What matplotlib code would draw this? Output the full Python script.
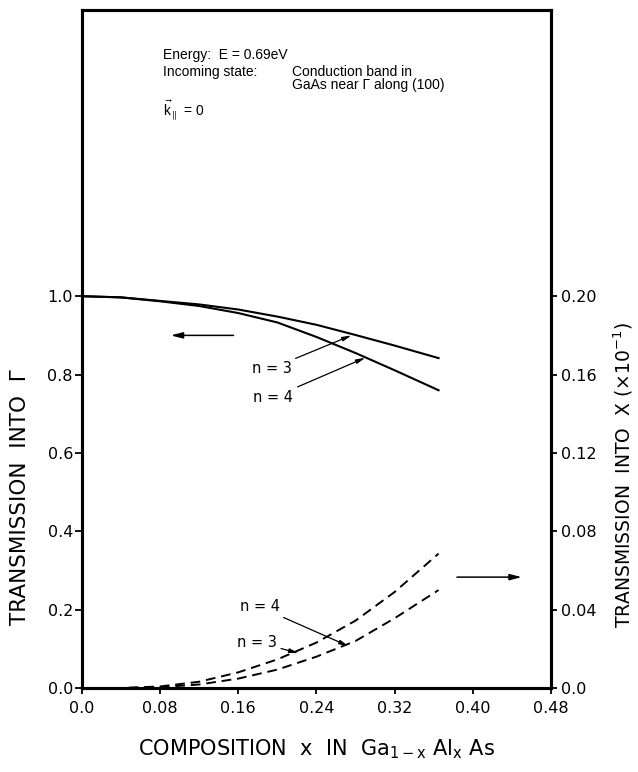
import numpy as np
import matplotlib
matplotlib.use("Agg")
from matplotlib import pyplot as plt

plt.rcParams['font.family'] = ['DejaVu Sans']
plt.rcParams['mathtext.default'] = 'regular'

# composition x in Ga(1-x)Al(x)As
comp = [0.0, 0.04, 0.08, 0.12, 0.16, 0.20, 0.24, 0.28, 0.32, 0.365]
# transmission into Gamma (left axis)
gam_n3 = [1.0, 0.997, 0.988, 0.979, 0.966, 0.948, 0.927, 0.901, 0.874, 0.842]
gam_n4 = [1.0, 0.997, 0.987, 0.975, 0.957, 0.933, 0.896, 0.855, 0.811, 0.760]
# transmission into X (right axis, units of 10^-1)
x_n3 = [0.0, 0.0, 0.0008, 0.0032, 0.008, 0.0146, 0.0232, 0.0344, 0.049, 0.0686]
x_n4 = [0.0, 0.0, 0.0004, 0.0018, 0.0048, 0.0094, 0.016, 0.024, 0.0356, 0.050]

xticks = [0.0, 0.08, 0.16, 0.24, 0.32, 0.40, 0.48]
xtick_lbl = ['0.0', '0.08', '0.16', '0.24', '0.32', '0.40', '0.48']
yticks = [0.0, 0.2, 0.4, 0.6, 0.8, 1.0]
ytick_lbl = ['0.0', '0.2', '0.4', '0.6', '0.8', '1.0']
y2ticks = [0.0, 0.04, 0.08, 0.12, 0.16, 0.20]
y2tick_lbl = ['0.0', '0.04', '0.08', '0.12', '0.16', '0.20']

fig = plt.figure(figsize=(6.38, 7.72), dpi=100)
ax = fig.add_axes([0.1285, 0.1088, 0.735, 0.878])
ax2 = ax.twinx()

ytop = 1.73
ax.set_xlim(0, 0.48)
ax.set_ylim(0, ytop)
ax2.set_ylim(0, ytop * 0.2)

ax.plot(comp, gam_n3, color='black', lw=1.5)
ax.plot(comp, gam_n4, color='black', lw=1.5)
ax2.plot(comp, x_n3, color='black', lw=1.4, linestyle=(0, (5, 3)))
ax2.plot(comp, x_n4, color='black', lw=1.4, linestyle=(0, (5, 3)))

ax.set_xticks(xticks)
ax.set_xticklabels(xtick_lbl)
ax.set_yticks(yticks)
ax.set_yticklabels(ytick_lbl)
ax2.set_yticks(y2ticks)
ax2.set_yticklabels(y2tick_lbl)

ax.tick_params(axis='x', direction='out', length=4, width=1.3, pad=5, labelsize=11.5)
ax.tick_params(axis='y', direction='out', length=5, width=1.3, pad=1.5, labelsize=11.5)
ax2.tick_params(axis='y', direction='out', length=4, width=1.3, pad=3, labelsize=11.5)

for a in (ax, ax2):
    for s in a.spines.values():
        s.set_linewidth(2.2)

ax.set_xlabel(r'COMPOSITION  x  IN  Ga$_{1-x}$ Al$_{x}$ As', fontsize=15, labelpad=16)
ax.set_ylabel('TRANSMISSION  INTO  Γ', fontsize=15.5)
ax.yaxis.set_label_coords(-0.11, 0.282)
ax2.set_ylabel(r'TRANSMISSION  INTO  X (×10$^{-1}$)', fontsize=13.5, rotation=90)
ax2.yaxis.set_label_coords(1.13, 0.315)

# text block
tfont = dict(fontsize=10, family='Liberation Sans', color='black', va='center')
ax.text(0.083, 1.615, 'Energy:  E = 0.69eV', **tfont)
ax.text(0.083, 1.571, 'Incoming state:', **tfont)
ax.text(0.2154, 1.571, 'Conduction band in', **tfont)
ax.text(0.2154, 1.538, 'GaAs near Γ along (100)', **tfont)
ax.text(0.083, 1.474, r'$\vec{k}_{\parallel}$ = 0', **tfont)

# direction arrows
ax.annotate('', xy=(0.088, 0.9), xytext=(0.158, 0.9),
            arrowprops=dict(arrowstyle='-|>,head_length=0.7,head_width=0.18', color='black', lw=1.1))
ax.annotate('', xy=(0.453, 0.283), xytext=(0.381, 0.283),
            arrowprops=dict(arrowstyle='-|>,head_length=0.7,head_width=0.18', color='black', lw=1.1))

# curve labels
arr = dict(arrowstyle='-|>,head_length=0.5,head_width=0.12', color='black', lw=0.9, shrinkA=1, shrinkB=0)
lfont = dict(fontsize=10.5, family='DejaVu Sans', ha='right', va='center')
ax.annotate('n = 3', xy=(0.2758, 0.9), xytext=(0.2145, 0.816), arrowprops=arr, **lfont)
ax.annotate('n = 4', xy=(0.290, 0.843), xytext=(0.2165, 0.742), arrowprops=arr, **lfont)
ax.annotate('n = 4', xy=(0.2727, 0.107), xytext=(0.2022, 0.207), arrowprops=arr, **lfont)
ax.annotate('n = 3', xy=(0.2216, 0.089), xytext=(0.1995, 0.117), arrowprops=arr, **lfont)

fig.savefig('out.png', dpi=100)
